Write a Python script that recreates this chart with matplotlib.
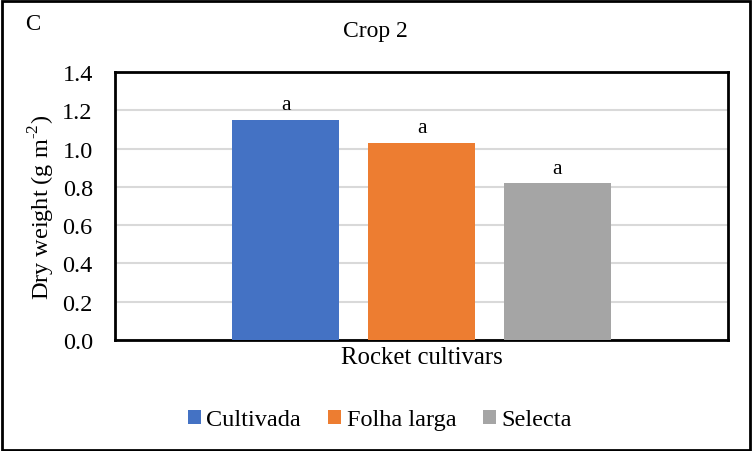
import matplotlib.pyplot as plt
from matplotlib.patches import Rectangle

# dados do gráfico
cultivars = ["Cultivada", "Folha larga", "Selecta"]
dry_weight = [1.15, 1.03, 0.82]
letters = ["a", "a", "a"]
colors = ["#4472C4", "#ED7D31", "#A5A5A5"]
y_ticks = [0.0, 0.2, 0.4, 0.6, 0.8, 1.0, 1.2, 1.4]

plt.rcParams["font.family"] = ["Liberation Serif", "DejaVu Serif"]
plt.rcParams["mathtext.fontset"] = "custom"
plt.rcParams["mathtext.rm"] = "Liberation Serif"

fig = plt.figure(figsize=(7.52, 4.52), dpi=100)
ax = fig.add_axes([115 / 752, 1 - 341 / 452, 613 / 752, 268 / 452])

# barras
for i, (name, val, col) in enumerate(zip(cultivars, dry_weight, colors)):
    ax.bar(i, val, width=0.787, color=col, label=name, zorder=3)
    ax.text(i, val + 0.055, letters[i], ha="center", va="baseline", fontsize=15.5)

ax.set_xlim(-1.254, 3.254)
ax.set_ylim(0, 1.4)
ax.set_yticks(y_ticks)
ax.set_yticklabels([f"{v:.1f}" for v in y_ticks], fontsize=17.5)
ax.set_xticks([])
ax.tick_params(axis="y", length=0, pad=16)
ax.grid(axis="y", color="#D9D9D9", linewidth=1.5, zorder=0)
for s in ax.spines.values():
    s.set_linewidth(2)
    s.set_color("black")

ax.set_ylabel(r"Dry weight (g m$^{\text{-2}}$)", fontsize=17.5, labelpad=4)
ax.set_xlabel("Rocket cultivars", fontsize=17.8, labelpad=4)

fig.text(375 / 752, 1 - 32 / 452, "Crop 2", ha="center", va="center", fontsize=17)
fig.text(25 / 752, 1 - 24 / 452, "C", ha="left", va="center", fontsize=16.5)

fig.legend(loc="center", bbox_to_anchor=(380 / 752, 1 - 421 / 452), ncol=3,
           frameon=False, fontsize=17.5, handlelength=0.55, handleheight=0.55,
           handletextpad=0.22, columnspacing=1.1)

# borda externa
fig.patches.append(Rectangle((0.002, 0.003), 0.995, 0.993, transform=fig.transFigure,
                             fill=False, edgecolor="black", linewidth=2))

fig.savefig("out.png", dpi=100)
